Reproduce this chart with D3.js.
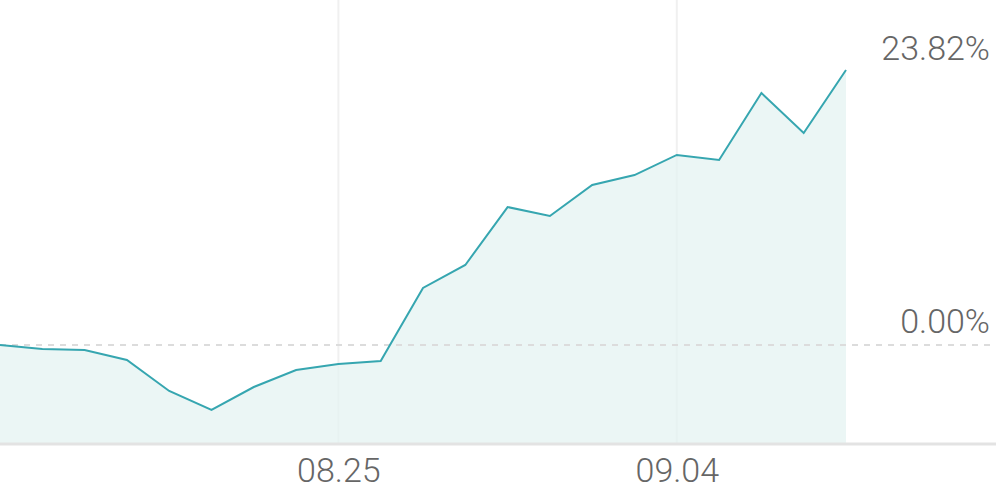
<!DOCTYPE html>
<html><head><meta charset="utf-8">
<script src="https://cdn.jsdelivr.net/npm/d3@7"></script>
<style>html,body{margin:0;padding:0;background:#fff;}svg{display:block;font-family:Roboto,"Noto Sans",sans-serif;}</style>
</head><body><svg id="c" width="996" height="490"></svg>
<script>
const dates = ["08.12","08.13","08.14","08.18","08.19","08.20","08.21","08.22","08.25","08.26","08.27","08.28","08.29","09.01","09.02","09.03","09.04","09.05","09.08","09.09","09.10"];
const values = [0,-0.35,-0.43,-1.30,-3.98,-5.63,-3.64,-2.17,-1.65,-1.39,4.94,6.93,11.95,11.17,13.86,14.72,16.46,16.02,21.83,18.36,23.82];
const tickLabels = ["08.25","09.04"];
const W=996,H=490, plotRight=846, axisY=444;
const svg=d3.select("#c");
const x=d3.scalePoint().domain(dates).range([0,plotRight]);
const y=d3.scaleLinear().domain(d3.extent(values)).range([410,70]);
const data=dates.map((d,i)=>({d,v:values[i]}));
// gridlines
svg.append("g").selectAll("line").data(tickLabels).join("line")
 .attr("x1",d=>x(d)).attr("x2",d=>x(d)).attr("y1",0).attr("y2",axisY)
 .attr("stroke","#f0f0f0").attr("stroke-width",2);
// area
svg.append("path").datum(data)
 .attr("d",d3.area().x(d=>x(d.d)).y0(axisY).y1(d=>y(d.v)))
 .attr("fill","#e4f3f1").attr("fill-opacity",0.75);
// zero line
svg.append("line").attr("x1",0).attr("x2",W).attr("y1",y(0)).attr("y2",y(0))
 .attr("stroke","#dcdcdc").attr("stroke-width",2).attr("stroke-dasharray","6,6");
// line
svg.append("path").datum(data)
 .attr("d",d3.line().x(d=>x(d.d)).y(d=>y(d.v)))
 .attr("fill","none").attr("stroke","#36a6b0").attr("stroke-width",2);
// x axis
const ax=svg.append("g").attr("transform",`translate(0,${axisY})`)
 .call(d3.axisBottom(x).tickValues(tickLabels).tickSize(0).tickPadding(14));
ax.select(".domain").attr("d",`M0,0H${W}`).attr("stroke","#e3e3e3").attr("stroke-width",3);
ax.selectAll("text").attr("font-size",34).attr("font-weight",300).attr("fill","#666").attr("font-family","Roboto");
// value labels
const labs=[{v:values[values.length-1],dy:-10},{v:0,dy:-12}];
svg.append("g").selectAll("text").data(labs).join("text")
 .attr("x",990).attr("y",d=>y(d.v)+d.dy).attr("text-anchor","end")
 .attr("font-size",34).attr("font-weight",300).attr("fill","#666")
 .text(d=>d.v.toFixed(2)+"%");
</script></body></html>
